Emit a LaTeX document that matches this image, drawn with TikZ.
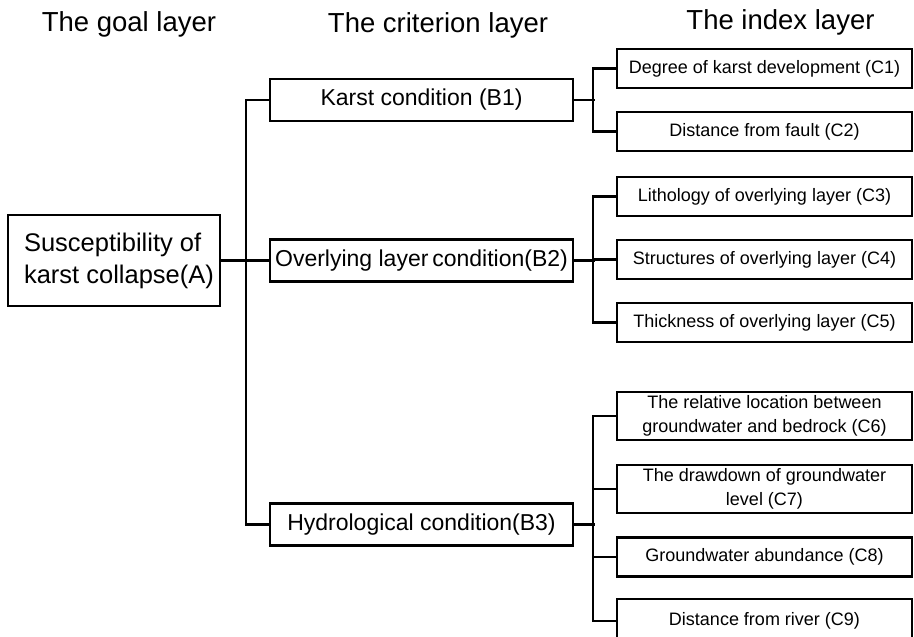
\documentclass[tikz,border=0pt]{standalone}
\usepackage{fontspec}
\setmainfont{Liberation Sans}
\usepackage{tikz}

\tikzset{
	layerhead/.style={anchor=base, inner sep=0pt, font=\fontsize{27.5}{33}\selectfont},
	goalbox/.style={draw, line width=2.6pt, minimum width=212pt, minimum height=91pt, inner sep=0pt, align=left, font=\fontsize{25.5}{32}\selectfont},
	critbox/.style={draw, line width=2.6pt, minimum width=303pt, minimum height=42pt, inner sep=0pt, font=\fontsize{23}{28}\selectfont},
	indexbox/.style={draw, line width=2.6pt, minimum width=295pt, minimum height=39pt, inner sep=0pt, align=center, font=\fontsize{18}{24}\selectfont},
	link/.style={line width=2.4pt}
}

\begin{document}
\begin{tikzpicture}[x=1pt, y=-1pt]
	\useasboundingbox (0,0) rectangle (914,637);

	\node[layerhead] (hgoal) at (129,31.5) {The goal layer};
	\node[layerhead] (hcrit) at (438,32) {The criterion layer};
	\node[layerhead] (hindex) at (780.5,29) {The index layer};

	\node[goalbox] (A) at (114,260.5) {\hspace*{10pt}Susceptibility of\\\hspace*{10pt}karst collapse(A)};

	\node[critbox] (B1) at (421.5,100) {Karst condition (B1)};
	\node[critbox] (B2) at (421.5,260.5) {Overlying layer\,condition(B2)};
	\node[critbox] (B3) at (421.5,524.5) {Hydrological condition(B3)};

	\node[indexbox] (C1) at (764.5,68.5) {Degree of karst development (C1)};
	\node[indexbox] (C2) at (764.5,131.5) {Distance from fault (C2)};
	\node[indexbox] (C3) at (764.5,196.5) {Lithology of overlying layer (C3)};
	\node[indexbox] (C4) at (764.5,259.5) {Structures of overlying layer (C4)};
	\node[indexbox] (C5) at (764.5,322.5) {Thickness of overlying layer (C5)};
	\node[indexbox, minimum height=48pt] (C6) at (764.5,416) {The relative location between\\groundwater and bedrock (C6)};
	\node[indexbox, minimum height=48pt] (C7) at (764.5,489) {The drawdown of groundwater\\level (C7)};
	\node[indexbox] (C8) at (764.5,557) {Groundwater abundance (C8)};
	\node[indexbox, minimum height=44pt] (C9) at (764.5,621) {Distance from river (C9)};

	\draw[link] (A.east) -- (B2.west);
	\draw[link] (B1.west) -- ++(-23,0) |- (B3.west);

	\draw[link] (B1.east) -- ++(21,0);
	\draw[link] (C1.west) -- ++(-23,0) |- (C2.west);

	\draw[link] (B2.east) -- ++(21,0);
	\draw[link] (C3.west) -- ++(-23,0) |- (C5.west);
	\draw[link] (C4.west) -- ++(-23,0);

	\draw[link] (B3.east) -- ++(21,0);
	\draw[link] (C6.west) -- ++(-23,0) |- (C9.west);
	\draw[link] (C7.west) -- ++(-23,0);
	\draw[link] (C8.west) -- ++(-23,0);
\end{tikzpicture}
\end{document}
